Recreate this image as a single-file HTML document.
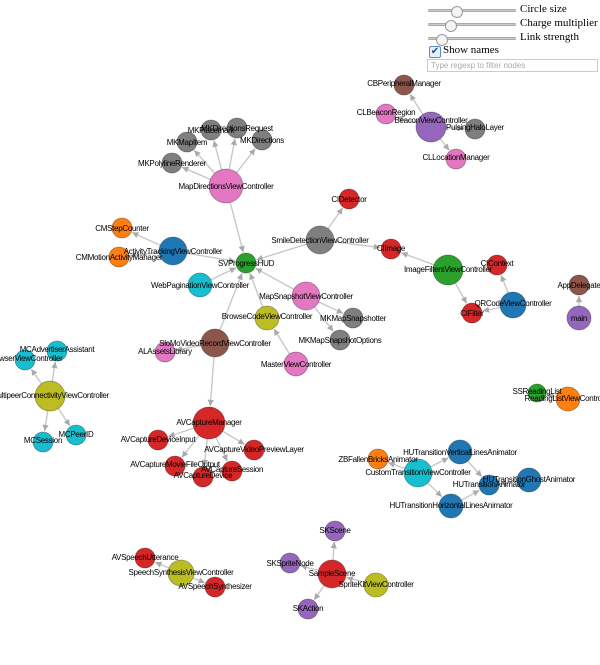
<!DOCTYPE html>
<html><head><meta charset="utf-8"><style>
html,body{margin:0;padding:0;background:#fff;width:600px;height:665px;overflow:hidden;position:relative;font-family:"Liberation Sans",sans-serif}
.sl{position:absolute;left:428px;width:88px;height:3px;background:#ccc;border-radius:2px;border:1px solid #aaa;box-sizing:border-box}
.kn{position:absolute;width:10px;height:10px;border-radius:50%;background:#f4f4f4;border:1px solid #999;top:-4px}
.lb{position:absolute;left:520px;font-family:"Liberation Serif",serif;font-size:11px;color:#000;white-space:nowrap}
svg text{font-family:"Liberation Sans",sans-serif;font-size:8px;text-anchor:middle;letter-spacing:-0.3px}
</style></head><body>
<div class="sl" style="top:9px"><div class="kn" style="left:22px"></div></div><div class="lb" style="top:3px">Circle size</div>
<div class="sl" style="top:23px"><div class="kn" style="left:16px"></div></div><div class="lb" style="top:17px">Charge multiplier</div>
<div class="sl" style="top:37px"><div class="kn" style="left:7px"></div></div><div class="lb" style="top:31px">Link strength</div>
<div style="position:absolute;left:429px;top:46px;width:10px;height:10px;border:1px solid #5a8ac8;background:#e8f0fb;border-radius:2px;font-size:10px;line-height:10px;color:#1a4f9c;text-align:center">✔</div>
<div class="lb" style="left:443px;top:44px">Show names</div>
<div style="position:absolute;left:427px;top:59px;width:171px;height:13px;border:1px solid #ccc;box-sizing:border-box;font-size:8px;color:#aaa;padding-left:3px;line-height:11px">Type regexp to filter nodes</div>
<svg width="600" height="665" style="position:absolute;left:0;top:0">
<defs><marker id="a" viewBox="0 0 10 10" refX="10" refY="5" markerWidth="4.5" markerHeight="4.5" orient="auto"><path d="M0,0L10,5L0,10z" fill="#aaa"/></marker></defs>
<g id="E" stroke="#c8c8c8" stroke-width="1.4"></g>
<g id="N" stroke-width="0.8"></g>
<g>
<text x="226" y="189">MapDirectionsViewController</text>
<text x="172" y="166">MKPolylineRenderer</text>
<text x="187" y="145">MKMapItem</text>
<text x="211" y="133">MKPlacemark</text>
<text x="237" y="131">MKDirectionsRequest</text>
<text x="262" y="143">MKDirections</text>
<text x="349" y="202">CIDetector</text>
<text x="320" y="243">SmileDetectionViewController</text>
<text x="246" y="266">SVProgressHUD</text>
<text x="173" y="254">ActivityTrackingViewController</text>
<text x="122" y="231">CMStepCounter</text>
<text x="119" y="260">CMMotionActivityManager</text>
<text x="200" y="288">WebPaginationViewController</text>
<text x="306" y="299">MapSnapshotViewController</text>
<text x="391" y="251">CIImage</text>
<text x="404" y="86">CBPeripheralManager</text>
<text x="386" y="115">CLBeaconRegion</text>
<text x="431" y="123">BeaconViewController</text>
<text x="475" y="130">PulsingHaloLayer</text>
<text x="456" y="160">CLLocationManager</text>
<text x="448" y="272">ImageFiltersViewController</text>
<text x="497" y="266">CIContext</text>
<text x="513" y="306">QRCodeViewController</text>
<text x="472" y="316">CIFilter</text>
<text x="579" y="288">AppDelegate</text>
<text x="579" y="321">main</text>
<text x="353" y="321">MKMapSnapshotter</text>
<text x="340" y="343">MKMapSnapshotOptions</text>
<text x="267" y="319">BrowseCodeViewController</text>
<text x="296" y="367">MasterViewController</text>
<text x="215" y="346">SloMoVideoRecordViewController</text>
<text x="165" y="354">ALAssetsLibrary</text>
<text x="57" y="352">MCAdvertiserAssistant</text>
<text x="25" y="361">BrowserViewController</text>
<text x="50" y="398">MultipeerConnectivityViewController</text>
<text x="43" y="443">MCSession</text>
<text x="76" y="437">MCPeerID</text>
<text x="209" y="425">AVCaptureManager</text>
<text x="158" y="442">AVCaptureDeviceInput</text>
<text x="254" y="452">AVCaptureVideoPreviewLayer</text>
<text x="175" y="467">AVCaptureMovieFileOutput</text>
<text x="203" y="478">AVCaptureDevice</text>
<text x="232" y="472">AVCaptureSession</text>
<text x="537" y="394">SSReadingList</text>
<text x="568" y="401">ReadingListViewController</text>
<text x="378" y="462">ZBFallenBricksAnimator</text>
<text x="418" y="475">CustomTransitionViewController</text>
<text x="460" y="455">HUTransitionVerticalLinesAnimator</text>
<text x="489" y="487">HUTransitionAnimator</text>
<text x="529" y="482">HUTransitionGhostAnimator</text>
<text x="451" y="508">HUTransitionHorizontalLinesAnimator</text>
<text x="335" y="533">SKScene</text>
<text x="290" y="566">SKSpriteNode</text>
<text x="332" y="576">SampleScene</text>
<text x="376" y="587">SpriteKitViewController</text>
<text x="308" y="611">SKAction</text>
<text x="145" y="560">AVSpeechUtterance</text>
<text x="181" y="575">SpeechSynthesisViewController</text>
<text x="215" y="589">AVSpeechSynthesizer</text>
</g>
</svg>
<script>
var C={b:"#1f77b4",o:"#ff7f0e",g:"#2ca02c",r:"#d62728",p:"#9467bd",n:"#8c564b",k:"#e377c2",y:"#7f7f7f",l:"#bcbd22",c:"#17becf"};
var N={
MD:[226,186,17,"k"],MP:[172,163,10,"y"],MI:[187,142,10,"y"],MPl:[211,130,10,"y"],MR:[237,128,10,"y"],MDi:[262,140,10,"y"],
CD:[349,199,10,"r"],SD:[320,240,14,"y"],SV:[246,263,10,"g"],AT:[173,251,14,"b"],CS:[122,228,10,"o"],CM:[119,257,10,"o"],
WP:[200,285,12,"c"],MS:[306,296,14,"k"],CI:[391,249,10,"r"],CB:[404,85,10,"n"],CL:[386,114,10,"k"],BV:[431,127,15,"p"],
PH:[475,129,10,"y"],LM:[456,159,10,"k"],IF:[448,270,15,"g"],CC:[497,265,10,"r"],QR:[513,305,13,"b"],CF:[472,313,10,"r"],
AD:[579,285,10,"n"],MA:[579,318,12,"p"],SN:[353,318,10,"y"],SO:[340,340,10,"y"],BC:[267,318,12,"l"],MV:[296,364,12,"k"],
SL:[215,343,14,"n"],AL:[165,352,10,"k"],MC:[57,351,10,"c"],BR:[25,360,10,"c"],MU:[50,396,15,"l"],SE:[43,442,10,"c"],PI:[76,435,10,"c"],
AM:[209,423,16,"r"],DI:[158,440,10,"r"],VP:[254,450,10,"r"],MF:[175,466,10,"r"],DV:[203,477,10,"r"],AS:[232,471,10,"r"],
SS:[537,393,9,"g"],RL:[568,399,12,"o"],ZB:[378,459,10,"o"],CT:[418,473,14,"c"],HV:[460,452,12,"b"],HA:[489,485,10,"b"],
HG:[529,480,12,"b"],HH:[451,506,12,"b"],SK:[335,531,10,"p"],SP:[290,563,10,"p"],SC:[332,574,14,"r"],SKV:[376,585,12,"l"],
SA:[308,609,10,"p"],SU:[145,558,10,"r"],SY:[181,573,13,"l"],SZ:[215,587,10,"r"]};
var E="MD MP,MD MI,MD MPl,MD MR,MD MDi,MD SV,SD CD,SD CI,SD SV,AT CS,AT CM,AT SV,WP SV,MS SV,MS SN,MS SO,BC SV,MV BC,SL SV,SL AL,SL AM,BV CB,BV CL,BV PH,BV LM,IF CI,IF CF,QR CC,QR CF,MA AD,MU MC,MU BR,MU SE,MU PI,AM DI,AM VP,AM MF,AM DV,AM AS,RL SS,CT ZB,CT HV,CT HH,HV HA,HH HA,HG HA,SC SK,SC SP,SC SA,SKV SC,SY SU,SY SZ".split(",");
var ns="http://www.w3.org/2000/svg",eg=document.getElementById("E"),ng=document.getElementById("N");
E.forEach(function(e){var p=e.split(" "),a=N[p[0]],b=N[p[1]],dx=b[0]-a[0],dy=b[1]-a[1],d=Math.sqrt(dx*dx+dy*dy),
l=document.createElementNS(ns,"line");l.setAttribute("x1",a[0]);l.setAttribute("y1",a[1]);
l.setAttribute("x2",b[0]-dx/d*(b[2]+1));l.setAttribute("y2",b[1]-dy/d*(b[2]+1));l.setAttribute("marker-end","url(#a)");eg.appendChild(l);});
for(var k in N){var n=N[k],c=document.createElementNS(ns,"circle");c.setAttribute("cx",n[0]);c.setAttribute("cy",n[1]);c.setAttribute("r",n[2]);
c.setAttribute("fill",C[n[3]]);c.setAttribute("stroke","rgba(0,0,0,0.35)");ng.appendChild(c);}
</script>
</body></html>
